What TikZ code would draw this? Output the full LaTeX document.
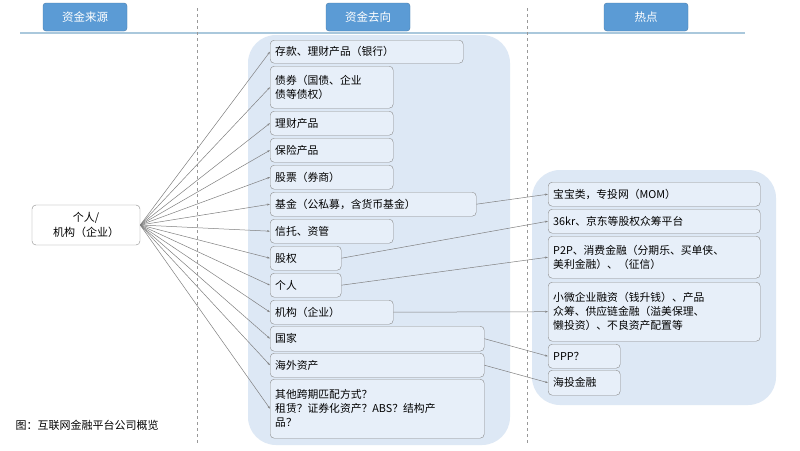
\documentclass[tikz,border=0pt]{standalone}
\usepackage{fontspec}
\setmainfont{Noto Sans CJK SC}
\usetikzlibrary{positioning,arrows.meta}
\definecolor{headblue}{RGB}{91,155,213}
\definecolor{bubble}{RGB}{221,232,245}
\definecolor{boxfill}{RGB}{231,239,249}
\definecolor{rule}{RGB}{170,200,220}
\tikzset{
  head/.style = {fill = headblue, draw = headblue!80!black, rounded corners = 3pt, text = white, font = \fontsize{11.5}{13}\selectfont, minimum width = 84pt, minimum height = 28pt},
  item/.style = {draw = black!45, fill = boxfill, rounded corners = 4pt, font = \fontsize{10.8}{14}\selectfont, align = left, anchor = north west, inner xsep = 5pt, inner ysep = 2pt},
  link/.style = {draw = black!50, line width = .5pt, -{Stealth[length=3pt,width=2pt]}}
}
\begin{document}
\begin{tikzpicture}[x=1pt,y=-1pt]
  \useasboundingbox (0,0) rectangle (800,450);
  \fill[white] (0,0) rectangle (800,450);
  % bubbles
  \fill[bubble] (248,35) [rounded corners=28pt] rectangle (510,445);
  \fill[bubble] (532,170) [rounded corners=28pt] rectangle (776,405);
  % headers and rules
  \draw[rule, line width=1.2pt] (20,33) -- (745,33);
  \draw[black!40, dashed, line width=.4pt] (197,8) -- (197,445);
  \draw[black!40, dashed, line width=.4pt] (527,8) -- (527,445);
  \node[head] (hsrc) at (85,17) {资金来源};
  \node[head] (hdst) at (368,17) {资金去向};
  \node[head] (hhot) at (646,17) {热点};
  % source
  \node[draw = black!45, fill = white, rounded corners = 4pt, minimum width = 108pt, minimum height = 40pt, align = center, font = \fontsize{11}{15}\selectfont] (src) at (86,225) {个人/\\机构（企业）};
  % destinations
  \foreach \n/\y/\w/\h/\t in {
    d1/40/193/23/{存款、理财产品（银行）},
    d2/66/123/42/{债券（国债、企业\\债等债权）},
    d3/111/123/24/{理财产品},
    d4/138/123/24/{保险产品},
    d5/165/123/24/{股票（券商）},
    d6/192/206/24/{基金（公私募，含货币基金）},
    d7/219/123/24/{信托、资管},
    d8/246/71/24/{股权},
    d9/273/71/24/{个人},
    d10/300/123/24/{机构（企业）},
    d11/326/214/25/{国家},
    d12/353/214/24/{海外资产},
    d13/379/214/59/{其他跨期匹配方式？\\租赁？证券化资产？ABS？结构产\\品？}}{
    \node[item, text width=\w pt - 10pt, minimum height=\h pt] (\n) at (270,\y) {\t};
    \draw[link] (src.east) -- (\n.west);
  }
  % hot spots
  \foreach \n/\y/\w/\h/\t in {
    h1/182/212/24/{宝宝类，专投网（MOM）},
    h2/209/212/24/{36kr、京东等股权众筹平台},
    h3/236/212/42/{P2P、消费金融（分期乐、买单侠、\\美利金融）、（征信）},
    h4/282/212/59/{小微企业融资（钱升钱）、产品\\众筹、供应链金融（溢美保理、\\懒投资）、不良资产配置等},
    h5/344/72/24/{PPP？},
    h6/370/72/25/{海投金融}}{
    \node[item, text width=\w pt - 10pt, minimum height=\h pt] (\n) at (548,\y) {\t};
  }
  \foreach \a/\b in {d6/h1,d8/h2,d9/h3,d10/h4,d11/h5,d12/h6}{
    \draw[link] (\a.east) -- (\b.west);
  }
  \node[anchor=west, font=\fontsize{11}{13}\selectfont] (cap) at (12,425) {图：互联网金融平台公司概览};
\end{tikzpicture}
\end{document}
